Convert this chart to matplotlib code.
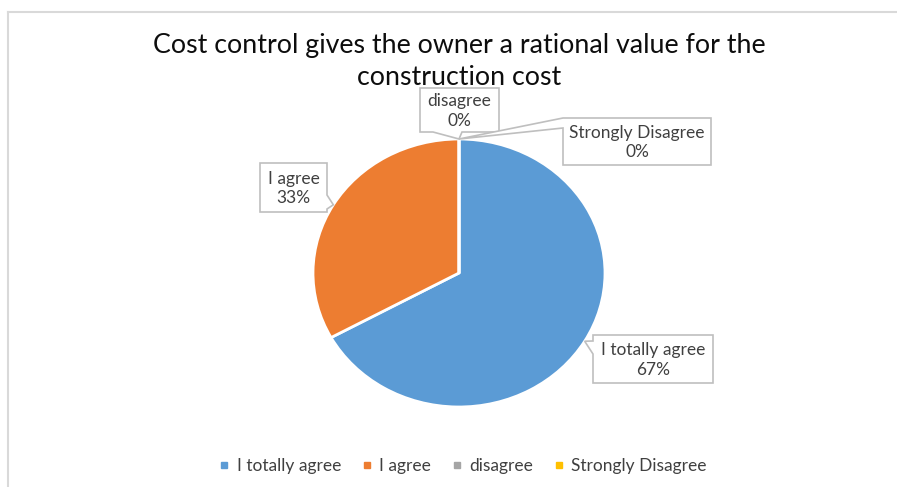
import matplotlib
matplotlib.use("Agg")
import matplotlib.pyplot as plt
import numpy as np
from matplotlib.patches import Polygon
from matplotlib.lines import Line2D

categories = ["I totally agree", "I agree", "disagree", "Strongly Disagree"]
values = [67, 33, 0, 0]
pct_labels = ["67%", "33%", "0%", "0%"]
colors = ["#5B9BD5", "#ED7D31", "#A5A5A5", "#FFC000"]
title_lines = ["Cost control gives the owner a rational value for the", "construction cost"]

plt.rcParams['font.family'] = ['Lato', 'DejaVu Sans']

W, H = 897, 487
fig = plt.figure(figsize=(W / 100, H / 100), dpi=100)

def fx(px):
    return px / W

def fy(py):
    return 1 - py / H

# chart border (left and top edges visible)
fig.add_artist(Line2D([fx(8), fx(8)], [fy(12), fy(H + 5)], color="#D9D9D9", lw=1.5, transform=fig.transFigure))
fig.add_artist(Line2D([fx(8), fx(W + 5)], [fy(12), fy(12)], color="#D9D9D9", lw=1.5, transform=fig.transFigure))

# title
fig.text(fx(459), fy(46), title_lines[0], ha="center", va="center", fontsize=19.3, color="#0D0D0D")
fig.text(fx(459), fy(77), title_lines[1], ha="center", va="center", fontsize=19.3, color="#0D0D0D")

# pie
ax = fig.add_axes([fx(313), fy(407), 292 / W, 268 / H])
wedges, _ = ax.pie(values, colors=colors, startangle=90, counterclock=False, radius=1,
                   wedgeprops=dict(edgecolor="white", linewidth=2))
ax.set_xlim(-1, 1)
ax.set_ylim(-1, 1)
ax.set_aspect("auto")
ax.axis("off")

def tip_px(w, r=1.0):
    mid = np.deg2rad((w.theta1 + w.theta2) / 2)
    x, y = ax.transData.transform((r * np.cos(mid), r * np.sin(mid)))
    return (x, H - y)

# callout layout: box (x0, y0, x1, y1) in px, pointer side, base
layout = [
    ((593, 335, 713, 383), "left", (341, 354), 1.0),
    ((260, 163, 327, 212), "right", (195, 209), 1.0),
    ((420, 88, 499, 132), "bottom", (433, 462), 1.0),
    ((563, 118, 711, 165), "left", (118, 128), 1.0),
]

def callout_poly(box, side, base, tip):
    x0, y0, x1, y1 = box
    b1, b2 = base
    pts = [(x0, y0)]
    if side == "top":
        pts += [(b1, y0), tip, (b2, y0)]
    pts.append((x1, y0))
    if side == "right":
        pts += [(x1, b1), tip, (x1, b2)]
    pts.append((x1, y1))
    if side == "bottom":
        pts += [(b2, y1), tip, (b1, y1)]
    pts.append((x0, y1))
    if side == "left":
        pts += [(x0, b2), tip, (x0, b1)]
    return [(fx(px), fy(py)) for px, py in pts]

for i, (box, side, base, r) in enumerate(layout):
    tip = tip_px(wedges[i], r)
    poly = Polygon(callout_poly(box, side, base, tip), closed=True, facecolor="white",
                   edgecolor="#BFBFBF", lw=1.2, transform=fig.transFigure, zorder=5)
    fig.add_artist(poly)
    x0, y0, x1, y1 = box
    fig.text(fx((x0 + x1) / 2), fy((y0 + y1) / 2 + 1), f"{categories[i]}\n{pct_labels[i]}",
             ha="center", va="center", fontsize=12.5, color="#404040", zorder=6, linespacing=1.3)

# legend
handles = [Line2D([], [], marker="s", linestyle="", markersize=5, color=c) for c in colors]
fig.legend(handles, categories, loc="center", bbox_to_anchor=(fx(463), fy(466)), ncol=4,
           frameon=False, handlelength=0.6, handletextpad=0.4, columnspacing=1.2,
           fontsize=12.5, labelcolor="#404040")

fig.savefig("out.png", dpi=100, facecolor="white")
